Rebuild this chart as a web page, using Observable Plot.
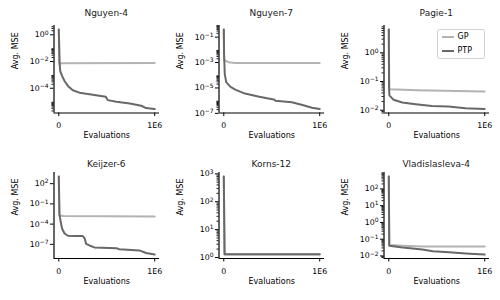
<!DOCTYPE html>
<html><head><meta charset="utf-8">
<script src="https://cdn.jsdelivr.net/npm/d3@7"></script>
<script src="https://cdn.jsdelivr.net/npm/@observablehq/plot@0.6"></script>
<style>
body{margin:0;background:#fff;}
#chart{position:relative;width:500px;height:300px;overflow:hidden;font-family:"DejaVu Sans",sans-serif;background:#fff;}
.title{position:absolute;font-size:9px;font-weight:400;text-align:center;color:#1a1a1a;line-height:1;transform:translate(-50%,-50%);white-space:nowrap;}
.cell{position:absolute;}
.legend{position:absolute;left:436.5px;top:28.5px;width:46px;height:28px;border:0.8px solid #d0d0d0;border-radius:2.5px;background:rgba(255,255,255,0.85);font-size:8px;}
.legend .item{position:absolute;left:0;height:10px;}
.legend .sw{position:absolute;left:4.5px;width:12px;height:2px;top:4px;}
.legend .lb{position:absolute;left:20px;top:0;line-height:10px;}
</style></head><body><div id="chart"></div>
<script>
// ---- data (evaluations x, average MSE y) ----
const panelTitles = ["Nguyen-4", "Nguyen-7", "Pagie-1", "Keijzer-6", "Korns-12", "Vladislasleva-4"];
const seriesNames = ["GP", "PTP"];
const xTicks = [0, 1000000];
const xTickLabels = ["0", "1E6"];

const nguyen4GpX  = [0, 8000, 20000, 1000000];
const nguyen4GpY  = [2.5, 5.5e-3, 7.5e-3, 7.9e-3];
const nguyen4PtpX = [0, 7000, 15000, 35000, 60000, 95000, 146000, 215000, 320000, 490000, 510000, 600000, 740000, 860000, 910000, 1000000];
const nguyen4PtpY = [2.5, 1e-2, 1.9e-3, 8.1e-4, 3.5e-4, 1.5e-4, 7.1e-5, 4.7e-5, 3.6e-5, 2.3e-5, 1.3e-5, 9.8e-6, 7.2e-6, 4.9e-6, 3.3e-6, 2.8e-6];

const nguyen7GpX  = [0, 3000, 50000, 120000, 1000000];
const nguyen7GpY  = [0.4, 1.6e-3, 1.05e-3, 9.3e-4, 9.1e-4];
const nguyen7PtpX = [0, 3000, 10000, 25000, 70000, 120000, 220000, 370000, 520000, 540000, 710000, 820000, 920000, 1000000];
const nguyen7PtpY = [0.4, 4.6e-3, 1.3e-4, 2.9e-5, 1.2e-5, 7.4e-6, 3.6e-6, 2.0e-6, 1.26e-6, 1.0e-6, 7.6e-7, 4.5e-7, 2.8e-7, 2.2e-7];

const pagie1GpX  = [0, 5000, 300000, 700000, 1000000];
const pagie1GpY  = [6.5, 0.054, 0.05, 0.047, 0.045];
const pagie1PtpX = [0, 3000, 6000, 50000, 140000, 280000, 450000, 620000, 800000, 1000000];
const pagie1PtpY = [6.5, 0.064, 0.033, 0.023, 0.0186, 0.0162, 0.0141, 0.0135, 0.0117, 0.011];

const keijzer6GpX  = [0, 5000, 50000, 1000000];
const keijzer6GpY  = [1200, 1.9e-3, 1.6e-3, 1.35e-3];
const keijzer6PtpX = [0, 7000, 20000, 35000, 60000, 95000, 180000, 250000, 270000, 285000, 320000, 370000, 600000, 630000, 840000, 910000, 1000000];
const keijzer6PtpY = [1200, 3.2e-3, 2.0e-4, 2.1e-5, 4.1e-6, 1.9e-6, 1.7e-6, 1.7e-6, 7.6e-7, 1.2e-7, 6.8e-8, 3.5e-8, 2.7e-8, 1.9e-8, 1.26e-8, 5.1e-9, 3.0e-9];

const korns12GpX  = [0, 8000, 1000000];
const korns12GpY  = [810, 1.27, 1.27];
const korns12PtpX = [0, 8000, 1000000];
const korns12PtpY = [810, 1.31, 1.31];

const vlad4GpX  = [0, 5000, 150000, 350000, 1000000];
const vlad4GpY  = [560, 0.045, 0.041, 0.037, 0.037];
const vlad4PtpX = [0, 5000, 145000, 350000, 460000, 630000, 840000, 1000000];
const vlad4PtpY = [560, 0.041, 0.032, 0.024, 0.019, 0.0166, 0.0135, 0.012];

// labelled decades (exponents) and decades carrying minor ticks
const nguyen4Major = [0, -2, -4];          const nguyen4Minor = [0, -2, -4, -6];
const nguyen7Major = [-1, -3, -5, -7];     const nguyen7Minor = [-1, -3, -5, -7];
const pagie1Major  = [0, -1, -2];          const pagie1Minor  = [-3, -2, -1, 0, 1];
const keijzer6Major = [2, -1, -4, -7];     const keijzer6Minor = [];
const korns12Major = [0, 1, 2, 3];         const korns12Minor = [-1, 0, 1, 2, 3];
const vlad4Major   = [-2, -1, 0, 1, 2];    const vlad4Minor   = [-3, -2, -1, 0, 1, 2];

const zip = (xs, ys) => xs.map((x, i) => ({x, y: ys[i]}));
const panelData = [
  {gp: zip(nguyen4GpX, nguyen4GpY), ptp: zip(nguyen4PtpX, nguyen4PtpY), major: nguyen4Major, minor: nguyen4Minor},
  {gp: zip(nguyen7GpX, nguyen7GpY), ptp: zip(nguyen7PtpX, nguyen7PtpY), major: nguyen7Major, minor: nguyen7Minor},
  {gp: zip(pagie1GpX, pagie1GpY), ptp: zip(pagie1PtpX, pagie1PtpY), major: pagie1Major, minor: pagie1Minor},
  {gp: zip(keijzer6GpX, keijzer6GpY), ptp: zip(keijzer6PtpX, keijzer6PtpY), major: keijzer6Major, minor: keijzer6Minor},
  {gp: zip(korns12GpX, korns12GpY), ptp: zip(korns12PtpX, korns12PtpY), major: korns12Major, minor: korns12Minor},
  {gp: zip(vlad4GpX, vlad4GpY), ptp: zip(vlad4PtpX, vlad4PtpY), major: vlad4Major, minor: vlad4Minor}
];

// ---- layout ----
const GP_COLOR = "#b3b3b3", PTP_COLOR = "#686868";
const W = 165, ML = 53.5, MR = 6, MT = 5, MB = 30;
const rows = [
  {svgTop: 20, plotH: 87.5, titleY: 13},
  {svgTop: 166.5, plotH: 86, titleY: 164}
];
const chart = document.getElementById("chart");

function panel(p, i) {
  const col = i % 3, row = rows[Math.floor(i / 3)];
  const all = p.gp.concat(p.ptp);
  const xe = d3.extent(all, d => d.x), xm = (xe[1] - xe[0]) * 0.05;
  const xd = [xe[0] - xm, xe[1] + xm];
  const le = d3.extent(all, d => Math.log10(d.y)), lm = (le[1] - le[0]) * 0.05;
  const ld = [le[0] - lm, le[1] + lm];
  const yd = [10 ** ld[0], 10 ** ld[1]];
  const major = p.major.filter(e => e >= ld[0] - 0.06 && e <= ld[1] + 0.06).map(e => 10 ** e);
  const minor = p.minor.flatMap(e => d3.range(2, 10).map(k => k * 10 ** e))
    .filter(v => Math.log10(v) >= ld[0] && Math.log10(v) <= ld[1]);
  const svg = Plot.plot({
    width: W, height: MT + row.plotH + MB,
    marginLeft: ML, marginRight: MR, marginTop: MT, marginBottom: MB,
    x: {domain: xd},
    y: {type: "log", domain: yd},
    style: {fontFamily: "DejaVu Sans", fontSize: "7.8px", background: "transparent", color: "#000", overflow: "visible"},
    marks: [
      Plot.axisY({ticks: minor, tickSize: 2, tickFormat: () => "", label: null, strokeWidth: 0.9}),
      Plot.axisY({ticks: major, tickSize: 3.5, tickPadding: 2, tickFormat: v => "10^" + Math.round(Math.log10(v)), label: null, strokeWidth: 1}),
      Plot.axisX({ticks: xTicks, tickSize: 3.5, tickPadding: 6, tickFormat: v => xTickLabels[xTicks.indexOf(v)], label: null, strokeWidth: 1}),
      Plot.ruleX([xd[0]], {stroke: "#000", strokeWidth: 1.2}),
      Plot.ruleY([yd[0]], {stroke: "#000", strokeWidth: 1.2}),
      Plot.line(p.gp, {x: "x", y: "y", stroke: GP_COLOR, strokeWidth: 2}),
      Plot.line(p.ptp, {x: "x", y: "y", stroke: PTP_COLOR, strokeWidth: 2}),
      Plot.text(["Evaluations"], {text: d => d, frameAnchor: "bottom", dy: 25, fontSize: 8}),
      Plot.text(["Avg. MSE"], {text: d => d, frameAnchor: "left", dx: -38.5, rotate: -90, fontSize: 8})
    ]
  });
  // render 10^e as mathtext-like superscripts
  svg.querySelectorAll("text").forEach(t => {
    const m = /^10\^(-?\d+)$/.exec(t.textContent);
    if (!m) return;
    t.textContent = "10";
    const s = document.createElementNS("http://www.w3.org/2000/svg", "tspan");
    s.setAttribute("dy", "-0.45em");
    s.setAttribute("font-size", "6px");
    s.textContent = m[1].replace("-", "\u2212");
    t.appendChild(s);
  });
  const cell = document.createElement("div");
  cell.className = "cell";
  cell.style.left = (col * 165) + "px";
  cell.style.top = row.svgTop + "px";
  cell.appendChild(svg);
  chart.appendChild(cell);
  const title = document.createElement("div");
  title.className = "title";
  title.textContent = panelTitles[i];
  title.style.left = (col * 165 + ML + (W - ML - MR) / 2) + "px";
  title.style.top = row.titleY + "px";
  chart.appendChild(title);
}
panelData.forEach(panel);

// legend (in the Pagie-1 panel)
const legend = document.createElement("div");
legend.className = "legend";
[GP_COLOR, PTP_COLOR].forEach((c, i) => {
  const it = document.createElement("div");
  it.className = "item";
  it.style.top = (2 + i * 14) + "px";
  it.innerHTML = `<div class="sw" style="background:${c}"></div><div class="lb">${seriesNames[i]}</div>`;
  legend.appendChild(it);
});
chart.appendChild(legend);
</script>
</body></html>
